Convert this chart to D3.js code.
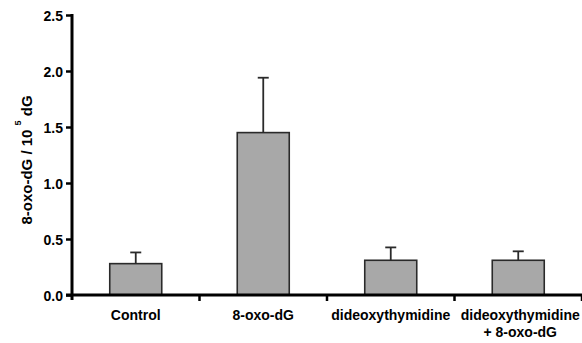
<!DOCTYPE html>
<html>
<head>
<meta charset="utf-8">
<script src="https://cdn.jsdelivr.net/npm/d3@7"></script>
<style>
  body { margin: 0; background: #fff; }
  text { font-family: "Liberation Sans", Arial, sans-serif; font-weight: bold; }
</style>
</head>
<body>
<script>
const categories = ["Control", "8-oxo-dG", "dideoxythymidine", "dideoxythymidine\n+ 8-oxo-dG"]
const means = [0.28, 1.45, 0.31, 0.31]
const errors = [0.10, 0.49, 0.115, 0.08]
const yTicks = [0, 0.5, 1.0, 1.5, 2.0, 2.5]

const w = 582
const h = 343

const data = categories.map((c, i) => ({ cat: c, mean: means[i], err: errors[i] }))

const svg = d3.select('body')
    .append('svg')
    .attr('width', w)
    .attr('height', h)

let x = d3.scaleBand()
    .domain(categories)
    .range([72, 582])
    .paddingInner(0)
    .paddingOuter(0)

let y = d3.scaleLinear()
    .domain([0, 2.5])
    .range([295, 15])

const barW = 52

// bars
svg.selectAll('rect.bar')
    .data(data)
    .enter()
    .append('rect')
    .attr('class', 'bar')
    .attr('x', d => x(d.cat) + x.bandwidth() / 2 - barW / 2)
    .attr('y', d => y(d.mean))
    .attr('width', barW)
    .attr('height', d => y(0) - y(d.mean))
    .attr('fill', '#a8a8a8')
    .attr('stroke', '#2a2a2a')
    .attr('stroke-width', 1.6)

// error bars (upper only)
const eb = svg.selectAll('g.err')
    .data(data)
    .enter()
    .append('g')
    .attr('class', 'err')
    .attr('stroke', '#2a2a2a')
    .attr('stroke-width', 1.8)

eb.append('line')
    .attr('x1', d => x(d.cat) + x.bandwidth() / 2)
    .attr('x2', d => x(d.cat) + x.bandwidth() / 2)
    .attr('y1', d => y(d.mean))
    .attr('y2', d => y(d.mean + d.err))

eb.append('line')
    .attr('x1', d => x(d.cat) + x.bandwidth() / 2 - 5.5)
    .attr('x2', d => x(d.cat) + x.bandwidth() / 2 + 5.5)
    .attr('y1', d => y(d.mean + d.err))
    .attr('y2', d => y(d.mean + d.err))

// y axis
const yAxis = d3.axisLeft(y)
    .tickValues(yTicks)
    .tickFormat(d3.format('.1f'))
    .tickSize(6)
    .tickSizeOuter(0)
    .tickPadding(3)

const gy = svg.append('g')
    .attr('transform', 'translate(72, 0)')
    .call(yAxis)
gy.select('.domain').remove()
gy.selectAll('.tick line').attr('stroke', '#000').attr('stroke-width', 2.5)
gy.selectAll('.tick text')
    .style('font-size', '14px')
    .attr('fill', '#000')
    .attr('dy', '0.36em')

svg.append('line')
    .attr('x1', 72).attr('x2', 72)
    .attr('y1', y(2.5) - 1).attr('y2', y(0) + 5)
    .attr('stroke', '#000')
    .attr('stroke-width', 3)

// x axis
svg.append('line')
    .attr('x1', 66).attr('x2', 582)
    .attr('y1', y(0)).attr('y2', y(0))
    .attr('stroke', '#000')
    .attr('stroke-width', 3)

svg.selectAll('line.xtick')
    .data(categories)
    .enter()
    .append('line')
    .attr('class', 'xtick')
    .attr('x1', d => x(d) + x.bandwidth())
    .attr('x2', d => x(d) + x.bandwidth())
    .attr('y1', y(0))
    .attr('y2', y(0) + 6)
    .attr('stroke', '#000')
    .attr('stroke-width', 2.5)

// category labels
const labels = svg.selectAll('text.cat')
    .data(categories)
    .enter()
    .append('text')
    .attr('class', 'cat')
    .attr('text-anchor', 'middle')
    .style('font-size', '14px')
    .attr('fill', '#000')

labels.selectAll('tspan')
    .data(d => d.split('\n').map(s => ({ s, c: d })))
    .enter()
    .append('tspan')
    .attr('x', d => x(d.c) + x.bandwidth() / 2 + (d.c.includes('\n') ? 2 : 0))
    .attr('y', (d, i) => 320 + i * 17)
    .text(d => d.s)

// y label
const yl = svg.append('text')
    .attr('transform', 'translate(32, 160) rotate(-90)')
    .attr('text-anchor', 'middle')
    .style('font-size', '15px')
    .attr('fill', '#000')

yl.append('tspan').text('8-oxo-dG / 10 ')
yl.append('tspan').text('5').style('font-size', '9px').attr('dy', '-11')
yl.append('tspan').text(' dG').attr('dy', '11')
</script>
</body>
</html>
